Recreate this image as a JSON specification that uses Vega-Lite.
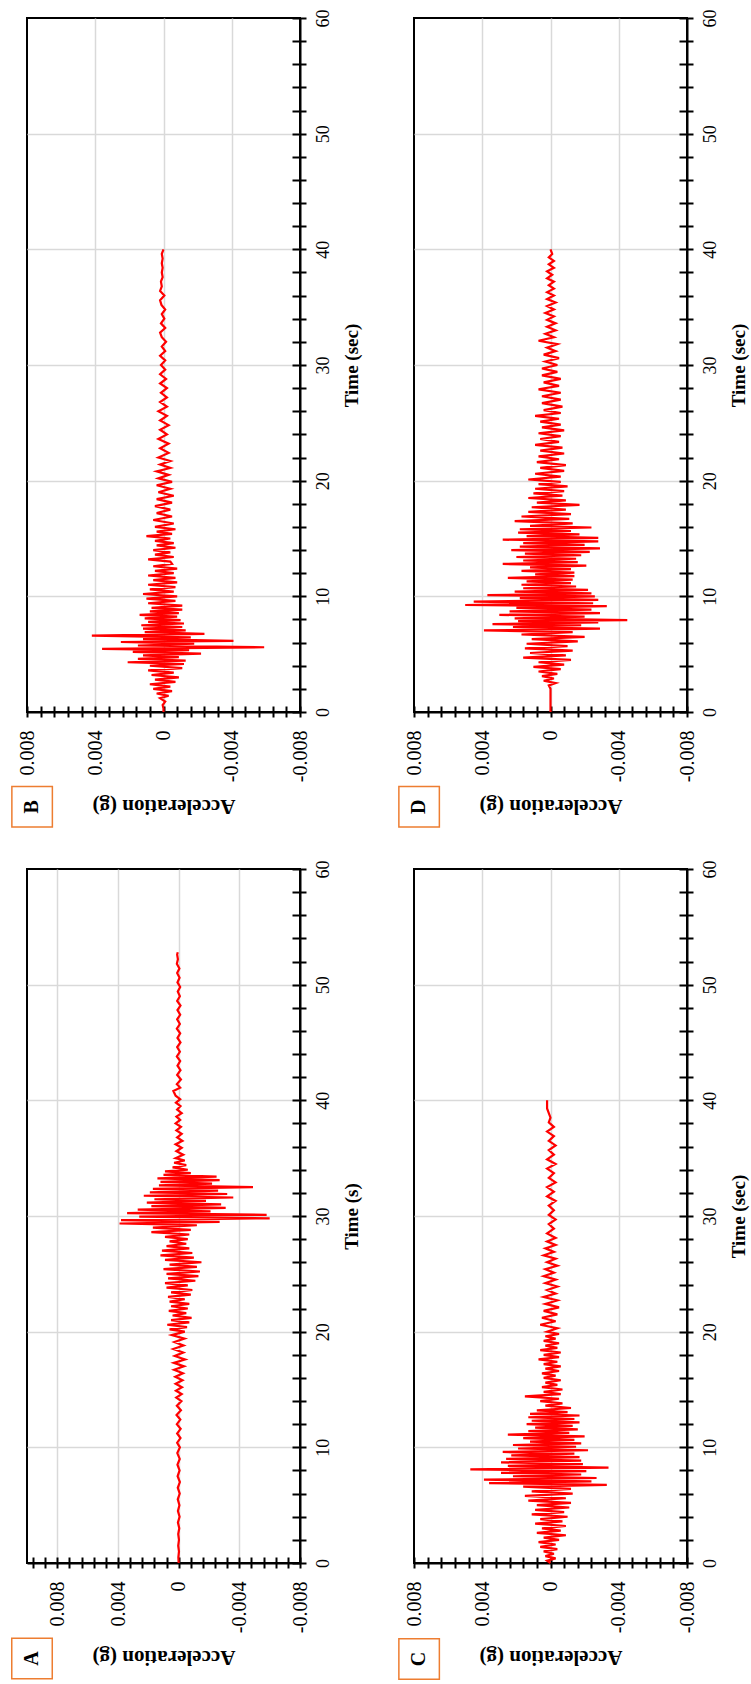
{
"$schema": "https://vega.github.io/schema/vega-lite/v6.json",
"padding": {"left": 7, "top": 7, "right": 5, "bottom": 5},
"config": {
  "view": {"stroke": "black", "strokeWidth": 2},
  "axis": {"labelFont": "Liberation Serif", "titleFont": "Liberation Serif", "labelColor": "black", "titleColor": "black", "titleFontWeight": "bold", "domainColor": "black", "domainWidth": 2, "tickColor": "black", "tickWidth": 2, "gridColor": "#d9d9d9", "gridWidth": 1.5, "labelFlush": false, "labelOverlap": false},
  "line": {"color": "#ff0000", "strokeWidth": 2.2, "strokeJoin": "miter"},
  "text": {"font": "Liberation Serif"}
},
"datasets": {
"B": [
{"t":0,"a":0},{"t":0.3,"a":0},{"t":0.6,"a":0.00005},{"t":0.9,"a":-0.0001},{"t":1.2,"a":0.0002},{"t":1.4,"a":-0.0003},{"t":1.6,"a":0.0004},{"t":1.8,"a":-0.0005},{"t":2.0,"a":0.0006},{"t":2.2,"a":-0.0004},{"t":2.4,"a":0.0008},{"t":2.6,"a":-0.0007},{"t":2.8,"a":0.0005},{"t":3.0,"a":-0.0009},{"t":3.2,"a":0.0007},{"t":3.4,"a":-0.0006},{"t":3.6,"a":0.0009},{"t":3.8,"a":-0.0011},{"t":4.0,"a":0.0008},{"t":4.15,"a":-0.0012},{"t":4.3,"a":0.0021},{"t":4.45,"a":-0.0013},{"t":4.6,"a":0.0015},{"t":4.75,"a":-0.0009},{"t":4.9,"a":0.0012},{"t":5.05,"a":-0.0022},{"t":5.2,"a":0.0018},{"t":5.35,"a":-0.0015},{"t":5.45,"a":0.0036},{"t":5.6,"a":-0.0059},{"t":5.75,"a":0.0015},{"t":5.9,"a":-0.0018},{"t":6.05,"a":0.0025},{"t":6.15,"a":-0.0041},{"t":6.3,"a":0.0012},{"t":6.45,"a":-0.0016},{"t":6.6,"a":0.0042},{"t":6.75,"a":-0.0024},{"t":6.9,"a":0.0011},{"t":7.05,"a":-0.0013},{"t":7.2,"a":0.0012},{"t":7.35,"a":-0.0011},{"t":7.5,"a":0.0013},{"t":7.65,"a":-0.0012},{"t":7.8,"a":0.0009},{"t":7.95,"a":-0.001},{"t":8.1,"a":0.0011},{"t":8.25,"a":-0.0008},{"t":8.4,"a":0.0014},{"t":8.55,"a":-0.0009},{"t":8.7,"a":0.0008},{"t":8.85,"a":-0.0011},{"t":9.0,"a":0.0007},{"t":9.2,"a":-0.0011},{"t":9.4,"a":0.0009},{"t":9.6,"a":-0.0007},{"t":9.8,"a":0.001},{"t":10.0,"a":-0.0008},{"t":10.2,"a":0.0012},{"t":10.4,"a":-0.0006},{"t":10.6,"a":0.0008},{"t":10.8,"a":-0.0007},{"t":11.0,"a":0.0009},{"t":11.2,"a":-0.0008},{"t":11.4,"a":0.0006},{"t":11.6,"a":-0.0007},{"t":11.8,"a":0.0009},{"t":12.0,"a":-0.0006},{"t":12.2,"a":0.0005},{"t":12.4,"a":-0.0008},{"t":12.6,"a":0.0006},{"t":12.8,"a":-0.0005},{"t":13.0,"a":-0.0004},{"t":13.2,"a":0.0009},{"t":13.4,"a":-0.0006},{"t":13.6,"a":0.0005},{"t":13.8,"a":-0.0004},{"t":14.0,"a":0.0006},{"t":14.2,"a":-0.0007},{"t":14.4,"a":0.0004},{"t":14.6,"a":-0.0006},{"t":14.8,"a":0.0005},{"t":15.0,"a":-0.0004},{"t":15.2,"a":0.001},{"t":15.4,"a":-0.0005},{"t":15.6,"a":0.0004},{"t":15.8,"a":-0.0007},{"t":16.0,"a":0.0005},{"t":16.3,"a":-0.0006},{"t":16.6,"a":0.0006},{"t":16.9,"a":-0.0005},{"t":17.2,"a":0.0004},{"t":17.5,"a":-0.0004},{"t":17.8,"a":0.0005},{"t":18.1,"a":-0.0005},{"t":18.4,"a":0.0004},{"t":18.7,"a":-0.0006},{"t":19.0,"a":0.0003},{"t":19.3,"a":-0.0004},{"t":19.6,"a":0.0004},{"t":19.9,"a":-0.0005},{"t":20.2,"a":0.0003},{"t":20.5,"a":-0.0003},{"t":20.8,"a":0.0004},{"t":21.1,"a":-0.0004},{"t":21.4,"a":0.0002},{"t":21.7,"a":-0.0004},{"t":22.0,"a":0.0003},{"t":22.4,"a":-0.0003},{"t":22.8,"a":0.0002},{"t":23.2,"a":-0.0003},{"t":23.6,"a":0.0003},{"t":24.0,"a":-0.0002},{"t":24.4,"a":0.0002},{"t":24.8,"a":-0.0003},{"t":25.2,"a":0.0002},{"t":25.6,"a":-0.0002},{"t":26.0,"a":0.0003},{"t":26.4,"a":-0.0002},{"t":26.8,"a":0.0002},{"t":27.2,"a":-0.0002},{"t":27.6,"a":0.00015},{"t":28.0,"a":-0.0002},{"t":28.4,"a":0.0002},{"t":28.8,"a":-0.00015},{"t":29.2,"a":0.0002},{"t":29.6,"a":-0.0001},{"t":30.0,"a":0.00015},{"t":30.4,"a":-0.0001},{"t":30.8,"a":0.0002},{"t":31.2,"a":-0.0001},{"t":31.6,"a":0.0001},{"t":32.0,"a":-0.00015},{"t":32.4,"a":0.0001},{"t":32.8,"a":0.0002},{"t":33.2,"a":-0.0001},{"t":33.6,"a":0.00015},{"t":34.0,"a":-0.00005},{"t":34.4,"a":0.0001},{"t":34.8,"a":-0.0001},{"t":35.2,"a":0.00012},{"t":35.6,"a":0.0002},{"t":36.0,"a":-0.00005},{"t":36.4,"a":0.0002},{"t":36.8,"a":0.0001},{"t":37.2,"a":0.00015},{"t":37.6,"a":0.00005},{"t":38.0,"a":0.0001},{"t":38.4,"a":0.00005},{"t":38.8,"a":0.0001},{"t":39.2,"a":0.00005},{"t":39.6,"a":0.0001},{"t":40.0,"a":0}
],
"D": [
{"t":0,"a":0},{"t":1.0,"a":0},{"t":2.0,"a":0},{"t":2.3,"a":0.0001},{"t":2.5,"a":-0.0003},{"t":2.7,"a":0.0004},{"t":2.9,"a":-0.0002},{"t":3.1,"a":0.0005},{"t":3.3,"a":-0.0004},{"t":3.5,"a":0.0007},{"t":3.7,"a":-0.0006},{"t":3.9,"a":0.001},{"t":4.1,"a":-0.0008},{"t":4.3,"a":0.0007},{"t":4.5,"a":-0.0012},{"t":4.7,"a":0.0016},{"t":4.9,"a":-0.0009},{"t":5.1,"a":0.0012},{"t":5.3,"a":-0.0013},{"t":5.5,"a":0.0015},{"t":5.7,"a":-0.001},{"t":5.9,"a":0.0014},{"t":6.1,"a":-0.0016},{"t":6.3,"a":0.0011},{"t":6.5,"a":-0.002},{"t":6.7,"a":0.0017},{"t":6.9,"a":-0.0013},{"t":7.05,"a":0.0039},{"t":7.2,"a":-0.0029},{"t":7.35,"a":0.0022},{"t":7.5,"a":-0.0018},{"t":7.6,"a":0.0034},{"t":7.75,"a":-0.0028},{"t":7.85,"a":0.0019},{"t":7.95,"a":-0.0045},{"t":8.1,"a":0.0021},{"t":8.25,"a":-0.002},{"t":8.4,"a":0.003},{"t":8.55,"a":-0.0029},{"t":8.7,"a":0.0024},{"t":8.85,"a":-0.0024},{"t":9.0,"a":0.002},{"t":9.15,"a":-0.0033},{"t":9.25,"a":0.005},{"t":9.4,"a":-0.0025},{"t":9.55,"a":0.0045},{"t":9.7,"a":-0.0028},{"t":9.85,"a":0.0018},{"t":10.0,"a":-0.0026},{"t":10.1,"a":0.0037},{"t":10.25,"a":-0.0024},{"t":10.4,"a":0.0021},{"t":10.55,"a":-0.0022},{"t":10.7,"a":0.0016},{"t":10.85,"a":-0.0015},{"t":11.0,"a":0.0017},{"t":11.15,"a":-0.0012},{"t":11.3,"a":0.0014},{"t":11.45,"a":-0.0013},{"t":11.6,"a":0.0025},{"t":11.75,"a":-0.0014},{"t":11.9,"a":0.0009},{"t":12.05,"a":-0.0014},{"t":12.2,"a":0.0017},{"t":12.35,"a":-0.0012},{"t":12.5,"a":0.0012},{"t":12.65,"a":-0.0021},{"t":12.8,"a":0.0028},{"t":12.95,"a":-0.0016},{"t":13.1,"a":0.0016},{"t":13.25,"a":-0.0015},{"t":13.4,"a":0.002},{"t":13.55,"a":-0.0018},{"t":13.7,"a":0.0015},{"t":13.85,"a":-0.0023},{"t":14.0,"a":0.0023},{"t":14.15,"a":-0.0029},{"t":14.3,"a":0.0018},{"t":14.45,"a":-0.002},{"t":14.6,"a":0.0016},{"t":14.75,"a":-0.0028},{"t":14.9,"a":0.0028},{"t":15.05,"a":-0.0028},{"t":15.2,"a":0.0014},{"t":15.35,"a":-0.0017},{"t":15.5,"a":0.0019},{"t":15.65,"a":-0.0012},{"t":15.8,"a":0.0018},{"t":15.95,"a":-0.0024},{"t":16.1,"a":0.0012},{"t":16.3,"a":-0.0013},{"t":16.5,"a":0.0021},{"t":16.7,"a":-0.0011},{"t":16.9,"a":0.0017},{"t":17.1,"a":-0.0012},{"t":17.3,"a":0.0013},{"t":17.5,"a":-0.0009},{"t":17.7,"a":0.0011},{"t":17.9,"a":-0.0017},{"t":18.1,"a":0.0008},{"t":18.3,"a":-0.0009},{"t":18.5,"a":0.0013},{"t":18.7,"a":-0.0007},{"t":18.9,"a":0.001},{"t":19.1,"a":-0.0008},{"t":19.3,"a":0.0009},{"t":19.5,"a":-0.001},{"t":19.7,"a":0.0007},{"t":19.9,"a":-0.0006},{"t":20.1,"a":0.0013},{"t":20.35,"a":-0.0006},{"t":20.6,"a":0.0009},{"t":20.85,"a":-0.0008},{"t":21.1,"a":0.0006},{"t":21.35,"a":-0.0009},{"t":21.6,"a":0.0008},{"t":21.85,"a":-0.0005},{"t":22.1,"a":0.0007},{"t":22.35,"a":-0.0008},{"t":22.6,"a":0.0006},{"t":22.85,"a":-0.0007},{"t":23.1,"a":0.0009},{"t":23.35,"a":-0.0005},{"t":23.6,"a":0.0006},{"t":23.85,"a":-0.0006},{"t":24.1,"a":0.0007},{"t":24.35,"a":-0.0008},{"t":24.6,"a":0.0005},{"t":24.85,"a":-0.0006},{"t":25.1,"a":0.0006},{"t":25.35,"a":-0.0005},{"t":25.6,"a":0.0009},{"t":25.85,"a":-0.0006},{"t":26.1,"a":0.0004},{"t":26.4,"a":-0.0007},{"t":26.7,"a":0.0005},{"t":27.0,"a":-0.0006},{"t":27.3,"a":0.0005},{"t":27.6,"a":-0.0006},{"t":27.9,"a":0.0007},{"t":28.2,"a":-0.0005},{"t":28.5,"a":0.0004},{"t":28.8,"a":-0.0006},{"t":29.1,"a":0.0005},{"t":29.4,"a":-0.0004},{"t":29.7,"a":0.0005},{"t":30.0,"a":-0.0004},{"t":30.3,"a":0.0003},{"t":30.6,"a":-0.0005},{"t":30.9,"a":0.0004},{"t":31.2,"a":-0.0003},{"t":31.5,"a":0.0002},{"t":31.8,"a":-0.0004},{"t":32.1,"a":0.0007},{"t":32.4,"a":-0.0002},{"t":32.7,"a":0.0003},{"t":33.0,"a":-0.0003},{"t":33.3,"a":0.0002},{"t":33.6,"a":-0.0003},{"t":33.9,"a":0.0002},{"t":34.2,"a":-0.0002},{"t":34.5,"a":0.0003},{"t":34.8,"a":-0.0002},{"t":35.1,"a":0.0002},{"t":35.4,"a":-0.0003},{"t":35.7,"a":0.0002},{"t":36.0,"a":-0.0002},{"t":36.3,"a":0.0002},{"t":36.6,"a":-0.0002},{"t":36.9,"a":0.0001},{"t":37.2,"a":-0.0002},{"t":37.5,"a":0.0002},{"t":37.8,"a":-0.0001},{"t":38.1,"a":0.0002},{"t":38.4,"a":-0.0002},{"t":38.7,"a":0.0001},{"t":39.0,"a":-0.0002},{"t":39.3,"a":0.0001},{"t":39.6,"a":-0.0001},{"t":40.0,"a":0}
],
"A": [
{"t":0,"a":0},{"t":0.5,"a":0.00002},{"t":1.0,"a":-0.00002},{"t":1.5,"a":0.00003},{"t":2.0,"a":-0.00002},{"t":2.5,"a":0.00003},{"t":3.0,"a":-0.00004},{"t":3.5,"a":0.00005},{"t":4.0,"a":-0.00006},{"t":4.5,"a":0.00005},{"t":5.0,"a":-0.00005},{"t":5.5,"a":0.00006},{"t":6.0,"a":-0.00007},{"t":6.5,"a":0.00006},{"t":7.0,"a":-0.00008},{"t":7.5,"a":0.00007},{"t":8.0,"a":-0.00006},{"t":8.5,"a":0.00008},{"t":9.0,"a":-0.00007},{"t":9.5,"a":0.00009},{"t":10.0,"a":-0.00008},{"t":10.4,"a":0.0001},{"t":10.8,"a":-0.00012},{"t":11.2,"a":0.0001},{"t":11.6,"a":-0.00013},{"t":12.0,"a":0.00012},{"t":12.4,"a":-0.00011},{"t":12.8,"a":0.00014},{"t":13.2,"a":-0.00015},{"t":13.6,"a":0.00012},{"t":14.0,"a":-0.00018},{"t":14.3,"a":0.00016},{"t":14.6,"a":-0.0002},{"t":14.9,"a":0.00018},{"t":15.2,"a":-0.00022},{"t":15.5,"a":0.0002},{"t":15.8,"a":-0.00025},{"t":16.1,"a":0.00022},{"t":16.4,"a":-0.00028},{"t":16.7,"a":0.0003},{"t":17.0,"a":-0.00035},{"t":17.3,"a":0.00032},{"t":17.6,"a":-0.00042},{"t":17.9,"a":0.00026},{"t":18.2,"a":-0.0003},{"t":18.5,"a":0.00035},{"t":18.8,"a":-0.00032},{"t":19.1,"a":0.00028},{"t":19.4,"a":-0.00038},{"t":19.7,"a":0.00045},{"t":20.0,"a":-0.0004},{"t":20.2,"a":0.0006},{"t":20.4,"a":-0.00055},{"t":20.6,"a":0.00075},{"t":20.8,"a":-0.0007},{"t":21.0,"a":0.0005},{"t":21.2,"a":-0.00085},{"t":21.4,"a":0.0004},{"t":21.6,"a":-0.0005},{"t":21.8,"a":0.00065},{"t":22.0,"a":-0.0006},{"t":22.2,"a":0.0005},{"t":22.4,"a":-0.0007},{"t":22.6,"a":0.0006},{"t":22.8,"a":-0.0004},{"t":23.0,"a":0.0007},{"t":23.2,"a":-0.0008},{"t":23.4,"a":0.0005},{"t":23.6,"a":-0.0009},{"t":23.8,"a":0.0008},{"t":24.0,"a":-0.0006},{"t":24.2,"a":0.0009},{"t":24.4,"a":-0.0011},{"t":24.6,"a":0.0007},{"t":24.8,"a":-0.0013},{"t":25.0,"a":0.0008},{"t":25.2,"a":-0.0014},{"t":25.4,"a":0.001},{"t":25.6,"a":-0.0012},{"t":25.8,"a":0.0006},{"t":26.0,"a":-0.0015},{"t":26.2,"a":0.0009},{"t":26.4,"a":-0.001},{"t":26.6,"a":0.0012},{"t":26.8,"a":-0.0009},{"t":27.0,"a":0.0011},{"t":27.2,"a":-0.0007},{"t":27.4,"a":0.0008},{"t":27.6,"a":-0.0005},{"t":27.8,"a":0.0006},{"t":28.0,"a":-0.0006},{"t":28.2,"a":0.0009},{"t":28.4,"a":-0.0007},{"t":28.6,"a":0.0018},{"t":28.8,"a":-0.0008},{"t":29.0,"a":0.0017},{"t":29.2,"a":-0.0012},{"t":29.35,"a":0.0039},{"t":29.5,"a":-0.0027},{"t":29.65,"a":0.0038},{"t":29.8,"a":-0.006},{"t":29.95,"a":0.0026},{"t":30.1,"a":-0.0058},{"t":30.25,"a":0.0034},{"t":30.4,"a":-0.0021},{"t":30.55,"a":0.0027},{"t":30.7,"a":-0.0031},{"t":30.85,"a":0.0018},{"t":31.0,"a":-0.0028},{"t":31.15,"a":0.0021},{"t":31.3,"a":-0.0018},{"t":31.45,"a":0.0016},{"t":31.6,"a":-0.0036},{"t":31.75,"a":0.0023},{"t":31.9,"a":-0.0032},{"t":32.05,"a":0.0019},{"t":32.2,"a":-0.0026},{"t":32.35,"a":0.0017},{"t":32.5,"a":-0.0049},{"t":32.65,"a":0.0013},{"t":32.8,"a":-0.0022},{"t":32.95,"a":0.0012},{"t":33.1,"a":-0.0027},{"t":33.25,"a":0.0014},{"t":33.4,"a":-0.0025},{"t":33.55,"a":0.001},{"t":33.7,"a":-0.0008},{"t":33.85,"a":0.0009},{"t":34.0,"a":-0.0006},{"t":34.2,"a":0.0004},{"t":34.4,"a":-0.0005},{"t":34.6,"a":0.0003},{"t":34.8,"a":-0.0004},{"t":35.0,"a":0.0002},{"t":35.3,"a":-0.0003},{"t":35.6,"a":0.00015},{"t":35.9,"a":-0.0002},{"t":36.2,"a":0.0002},{"t":36.5,"a":-0.00025},{"t":36.8,"a":0.0001},{"t":37.1,"a":-0.0002},{"t":37.4,"a":0.00015},{"t":37.7,"a":-0.00015},{"t":38.0,"a":0.0002},{"t":38.3,"a":-0.0001},{"t":38.6,"a":0.00015},{"t":38.9,"a":-0.0002},{"t":39.2,"a":0.0001},{"t":39.5,"a":-0.00012},{"t":39.8,"a":0.00018},{"t":40.1,"a":-0.0001},{"t":40.4,"a":0.0002},{"t":40.8,"a":0.00035},{"t":41.1,"a":-0.0001},{"t":41.4,"a":0.00012},{"t":41.8,"a":-0.00015},{"t":42.2,"a":0.0001},{"t":42.6,"a":-0.00012},{"t":43.0,"a":0.00008},{"t":43.4,"a":-0.0001},{"t":43.8,"a":0.00012},{"t":44.2,"a":-0.00008},{"t":44.6,"a":0.0001},{"t":45.0,"a":-0.00012},{"t":45.4,"a":0.00008},{"t":45.8,"a":-0.0001},{"t":46.2,"a":0.00012},{"t":46.6,"a":-0.00008},{"t":47.0,"a":0.0001},{"t":47.4,"a":-0.0001},{"t":47.8,"a":0.00008},{"t":48.2,"a":-0.00012},{"t":48.6,"a":0.0001},{"t":49.0,"a":-0.00008},{"t":49.4,"a":0.00006},{"t":49.8,"a":-0.0001},{"t":50.2,"a":0.00008},{"t":50.6,"a":-0.00006},{"t":51.0,"a":0.0001},{"t":51.4,"a":-0.00005},{"t":51.8,"a":0.00012},{"t":52.2,"a":0.00005},{"t":52.6,"a":0.0001},{"t":52.8,"a":0.00006}
],
"C": [
{"t":0,"a":0},{"t":0.2,"a":0.0002},{"t":0.4,"a":-0.0003},{"t":0.6,"a":0.0003},{"t":0.8,"a":-0.0002},{"t":1.0,"a":0.0004},{"t":1.2,"a":-0.0004},{"t":1.4,"a":0.0006},{"t":1.6,"a":-0.0003},{"t":1.8,"a":0.0007},{"t":2.0,"a":-0.0005},{"t":2.2,"a":0.0004},{"t":2.4,"a":-0.0009},{"t":2.6,"a":0.0008},{"t":2.8,"a":-0.0006},{"t":3.0,"a":0.0005},{"t":3.2,"a":-0.0009},{"t":3.4,"a":0.0009},{"t":3.6,"a":-0.0007},{"t":3.8,"a":0.0006},{"t":4.0,"a":-0.001},{"t":4.2,"a":0.0011},{"t":4.4,"a":-0.0008},{"t":4.6,"a":0.0009},{"t":4.8,"a":-0.0011},{"t":5.0,"a":0.0008},{"t":5.2,"a":-0.0012},{"t":5.4,"a":0.0013},{"t":5.6,"a":-0.0009},{"t":5.8,"a":0.0015},{"t":6.0,"a":-0.0013},{"t":6.2,"a":0.0011},{"t":6.4,"a":-0.0012},{"t":6.6,"a":0.0016},{"t":6.75,"a":-0.0033},{"t":6.9,"a":0.0036},{"t":7.05,"a":-0.0024},{"t":7.2,"a":0.0039},{"t":7.35,"a":-0.0027},{"t":7.5,"a":0.0022},{"t":7.65,"a":-0.0018},{"t":7.8,"a":0.0029},{"t":7.95,"a":-0.0021},{"t":8.1,"a":0.0047},{"t":8.25,"a":-0.0034},{"t":8.4,"a":0.0025},{"t":8.55,"a":-0.0019},{"t":8.7,"a":0.0029},{"t":8.85,"a":-0.0018},{"t":9.0,"a":0.0026},{"t":9.15,"a":-0.0017},{"t":9.3,"a":0.0023},{"t":9.45,"a":-0.0014},{"t":9.6,"a":0.0028},{"t":9.75,"a":-0.0022},{"t":9.9,"a":0.0019},{"t":10.05,"a":-0.0015},{"t":10.2,"a":0.0022},{"t":10.35,"a":-0.0018},{"t":10.5,"a":0.0012},{"t":10.65,"a":-0.0014},{"t":10.8,"a":0.0016},{"t":10.95,"a":-0.002},{"t":11.1,"a":0.0025},{"t":11.25,"a":-0.0011},{"t":11.4,"a":0.0013},{"t":11.55,"a":-0.0016},{"t":11.7,"a":0.0009},{"t":11.85,"a":-0.0013},{"t":12.0,"a":0.0014},{"t":12.15,"a":-0.0017},{"t":12.3,"a":0.0011},{"t":12.45,"a":-0.0014},{"t":12.6,"a":0.0013},{"t":12.75,"a":-0.0017},{"t":12.9,"a":0.0012},{"t":13.05,"a":-0.001},{"t":13.2,"a":0.0008},{"t":13.4,"a":-0.0012},{"t":13.6,"a":0.0003},{"t":13.8,"a":-0.0007},{"t":14.0,"a":0.0006},{"t":14.2,"a":-0.0005},{"t":14.4,"a":0.0015},{"t":14.6,"a":-0.0006},{"t":14.8,"a":0.0004},{"t":15.0,"a":-0.0007},{"t":15.2,"a":0.0005},{"t":15.4,"a":-0.0004},{"t":15.6,"a":0.0003},{"t":15.8,"a":-0.0006},{"t":16.0,"a":0.0004},{"t":16.2,"a":-0.0003},{"t":16.4,"a":0.0005},{"t":16.6,"a":-0.0005},{"t":16.8,"a":0.0003},{"t":17.0,"a":-0.0006},{"t":17.2,"a":0.0004},{"t":17.4,"a":-0.0004},{"t":17.6,"a":0.0007},{"t":17.8,"a":-0.0005},{"t":18.0,"a":0.0004},{"t":18.2,"a":-0.0006},{"t":18.4,"a":0.0006},{"t":18.6,"a":-0.0004},{"t":18.8,"a":0.0003},{"t":19.0,"a":-0.0005},{"t":19.2,"a":0.0004},{"t":19.4,"a":-0.0003},{"t":19.6,"a":0.0003},{"t":19.8,"a":-0.0005},{"t":20.0,"a":0.0002},{"t":20.3,"a":-0.0004},{"t":20.6,"a":0.0006},{"t":20.9,"a":-0.0003},{"t":21.2,"a":0.0005},{"t":21.5,"a":-0.0004},{"t":21.8,"a":0.0004},{"t":22.1,"a":-0.0005},{"t":22.4,"a":0.0003},{"t":22.7,"a":-0.0004},{"t":23.0,"a":0.0004},{"t":23.3,"a":-0.0003},{"t":23.6,"a":0.0002},{"t":23.9,"a":-0.0004},{"t":24.2,"a":0.0003},{"t":24.5,"a":-0.0003},{"t":24.8,"a":0.0004},{"t":25.1,"a":-0.0002},{"t":25.4,"a":0.0003},{"t":25.7,"a":-0.0004},{"t":26.0,"a":0.0002},{"t":26.3,"a":-0.0003},{"t":26.6,"a":0.0004},{"t":26.9,"a":-0.0002},{"t":27.2,"a":0.0003},{"t":27.5,"a":-0.0003},{"t":27.8,"a":0.0002},{"t":28.1,"a":-0.0003},{"t":28.5,"a":0.0002},{"t":28.9,"a":-0.0002},{"t":29.3,"a":0.0001},{"t":29.7,"a":-0.0003},{"t":30.1,"a":0.0001},{"t":30.5,"a":-0.0002},{"t":30.9,"a":0.0001},{"t":31.3,"a":-0.0003},{"t":31.7,"a":0.0002},{"t":32.1,"a":-0.0002},{"t":32.5,"a":0.0002},{"t":32.9,"a":-0.0003},{"t":33.3,"a":0.0001},{"t":33.7,"a":-0.0002},{"t":34.1,"a":0.0002},{"t":34.5,"a":-0.0003},{"t":34.9,"a":0.0002},{"t":35.3,"a":-0.0002},{"t":35.7,"a":0.0001},{"t":36.1,"a":-0.0003},{"t":36.5,"a":0.0001},{"t":36.9,"a":-0.0002},{"t":37.3,"a":0.0002},{"t":37.7,"a":-0.0002},{"t":38.1,"a":0.0001},{"t":38.5,"a":0},{"t":38.9,"a":0.0001},{"t":39.3,"a":0.0002},{"t":39.7,"a":0.0002},{"t":40.0,"a":0.0002}
]
},
"columns": 2,
"spacing": {"row": 157, "column": 114},
"bounds": "flush",
"concat": [
{
"width": 273, "height": 694,
"layer": [
{"data": {"name": "B"},
 "mark": {"type": "line"},
 "encoding": {
  "x": {"field": "a", "type": "quantitative", "scale": {"domain": [-0.008, 0.008], "reverse": true, "nice": false, "zero": false},
        "axis": {"orient": "bottom", "values": [-0.008, -0.004, 0, 0.004, 0.008], "labelExpr": "'' + datum.value", "labelAngle": -90, "labelAlign": "right", "labelBaseline": "middle", "labelPadding": 18, "labelFontSize": 20, "ticks": false, "tickSize": 0, "grid": true, "gridColor": {"condition": {"test": "abs(datum.value) > 0.0079", "value": "transparent"}, "value": "#d9d9d9"}, "title": "Acceleration (g)", "titleFontSize": 21, "titleAngle": 180, "titleBaseline": "bottom", "titlePadding": 14}},
  "y": {"field": "t", "type": "quantitative", "scale": {"domain": [0, 60], "nice": false, "zero": false},
        "axis": {"orient": "right", "values": [0, 10, 20, 30, 40, 50, 60], "labelAngle": -90, "labelAlign": "center", "labelBaseline": "top", "labelPadding": 14, "labelFontSize": 18, "ticks": false, "tickSize": 0, "grid": true, "gridColor": {"condition": {"test": "datum.value == 0 || datum.value == 60", "value": "transparent"}, "value": "#d9d9d9"}, "title": "Time (sec)", "titleFontSize": 19, "titleAngle": -90, "titleBaseline": "top", "titlePadding": 10}},
  "order": {"field": "t", "type": "quantitative"}
 }},
{"data": {"values": [{"panel": "B"}]},
 "mark": {"type": "point", "shape": "square", "size": 1640, "filled": true, "fill": "white", "stroke": "#ED7D31", "strokeWidth": 1.5, "opacity": 1},
 "encoding": {
  "x": {"datum": 0.0077, "type": "quantitative", "scale": {"domain": [-0.008, 0.008], "reverse": true, "nice": false, "zero": false},
        "axis": {"orient": "bottom", "values": [-0.008, -0.0072, -0.0064, -0.0056, -0.0048, -0.004, -0.0032, -0.0024, -0.0016, -0.0008, 0, 0.0008, 0.0016, 0.0024, 0.0032, 0.004, 0.0048, 0.0056, 0.0064, 0.0072, 0.008], "labels": false, "grid": false, "domain": false, "ticks": true, "tickSize": 11, "offset": -6, "title": null}},
  "y": {"datum": -8.2, "type": "quantitative", "scale": {"domain": [0, 60], "nice": false, "zero": false},
        "axis": {"orient": "right", "values": [0, 2, 4, 6, 8, 10, 12, 14, 16, 18, 20, 22, 24, 26, 28, 30, 32, 34, 36, 38, 40, 42, 44, 46, 48, 50, 52, 54, 56, 58, 60], "labels": false, "grid": false, "domain": false, "ticks": true, "tickSize": 14, "offset": -8, "title": null}}
 }},
{"data": {"values": [{"panel": "B"}]},
 "mark": {"type": "text", "angle": 270, "fontSize": 20, "fontWeight": "bold", "color": "black"},
 "encoding": {
  "x": {"datum": 0.0077, "type": "quantitative", "axis": null},
  "y": {"datum": -8.2, "type": "quantitative", "axis": null},
  "text": {"field": "panel"}
 }}
],
"resolve": {"axis": {"x": "independent", "y": "independent"}}
},
{
"width": 273, "height": 694,
"layer": [
{"data": {"name": "D"},
 "mark": {"type": "line"},
 "encoding": {
  "x": {"field": "a", "type": "quantitative", "scale": {"domain": [-0.008, 0.008], "reverse": true, "nice": false, "zero": false},
        "axis": {"orient": "bottom", "values": [-0.008, -0.004, 0, 0.004, 0.008], "labelExpr": "'' + datum.value", "labelAngle": -90, "labelAlign": "right", "labelBaseline": "middle", "labelPadding": 18, "labelFontSize": 20, "ticks": false, "tickSize": 0, "grid": true, "gridColor": {"condition": {"test": "abs(datum.value) > 0.0079", "value": "transparent"}, "value": "#d9d9d9"}, "title": "Acceleration (g)", "titleFontSize": 21, "titleAngle": 180, "titleBaseline": "bottom", "titlePadding": 14}},
  "y": {"field": "t", "type": "quantitative", "scale": {"domain": [0, 60], "nice": false, "zero": false},
        "axis": {"orient": "right", "values": [0, 10, 20, 30, 40, 50, 60], "labelAngle": -90, "labelAlign": "center", "labelBaseline": "top", "labelPadding": 14, "labelFontSize": 18, "ticks": false, "tickSize": 0, "grid": true, "gridColor": {"condition": {"test": "datum.value == 0 || datum.value == 60", "value": "transparent"}, "value": "#d9d9d9"}, "title": "Time (sec)", "titleFontSize": 19, "titleAngle": -90, "titleBaseline": "top", "titlePadding": 10}},
  "order": {"field": "t", "type": "quantitative"}
 }},
{"data": {"values": [{"panel": "D"}]},
 "mark": {"type": "point", "shape": "square", "size": 1640, "filled": true, "fill": "white", "stroke": "#ED7D31", "strokeWidth": 1.5, "opacity": 1},
 "encoding": {
  "x": {"datum": 0.0077, "type": "quantitative", "scale": {"domain": [-0.008, 0.008], "reverse": true, "nice": false, "zero": false},
        "axis": {"orient": "bottom", "values": [-0.008, -0.0072, -0.0064, -0.0056, -0.0048, -0.004, -0.0032, -0.0024, -0.0016, -0.0008, 0, 0.0008, 0.0016, 0.0024, 0.0032, 0.004, 0.0048, 0.0056, 0.0064, 0.0072, 0.008], "labels": false, "grid": false, "domain": false, "ticks": true, "tickSize": 11, "offset": -6, "title": null}},
  "y": {"datum": -8.2, "type": "quantitative", "scale": {"domain": [0, 60], "nice": false, "zero": false},
        "axis": {"orient": "right", "values": [0, 2, 4, 6, 8, 10, 12, 14, 16, 18, 20, 22, 24, 26, 28, 30, 32, 34, 36, 38, 40, 42, 44, 46, 48, 50, 52, 54, 56, 58, 60], "labels": false, "grid": false, "domain": false, "ticks": true, "tickSize": 14, "offset": -8, "title": null}}
 }},
{"data": {"values": [{"panel": "D"}]},
 "mark": {"type": "text", "angle": 270, "fontSize": 20, "fontWeight": "bold", "color": "black"},
 "encoding": {
  "x": {"datum": 0.0077, "type": "quantitative", "axis": null},
  "y": {"datum": -8.2, "type": "quantitative", "axis": null},
  "text": {"field": "panel"}
 }}
],
"resolve": {"axis": {"x": "independent", "y": "independent"}}
},
{
"width": 273, "height": 694,
"layer": [
{"data": {"name": "A"},
 "mark": {"type": "line"},
 "encoding": {
  "x": {"field": "a", "type": "quantitative", "scale": {"domain": [-0.008, 0.01], "reverse": true, "nice": false, "zero": false},
        "axis": {"orient": "bottom", "values": [-0.008, -0.004, 0, 0.004, 0.008], "labelExpr": "'' + datum.value", "labelAngle": -90, "labelAlign": "right", "labelBaseline": "middle", "labelPadding": 18, "labelFontSize": 20, "ticks": false, "tickSize": 0, "grid": true, "gridColor": {"condition": {"test": "datum.value < -0.0079", "value": "transparent"}, "value": "#d9d9d9"}, "title": "Acceleration (g)", "titleFontSize": 21, "titleAngle": 180, "titleBaseline": "bottom", "titlePadding": 14}},
  "y": {"field": "t", "type": "quantitative", "scale": {"domain": [0, 60], "nice": false, "zero": false},
        "axis": {"orient": "right", "values": [0, 10, 20, 30, 40, 50, 60], "labelAngle": -90, "labelAlign": "center", "labelBaseline": "top", "labelPadding": 14, "labelFontSize": 18, "ticks": false, "tickSize": 0, "grid": true, "gridColor": {"condition": {"test": "datum.value == 0 || datum.value == 60", "value": "transparent"}, "value": "#d9d9d9"}, "title": "Time (s)", "titleFontSize": 19, "titleAngle": -90, "titleBaseline": "top", "titlePadding": 10}},
  "order": {"field": "t", "type": "quantitative"}
 }},
{"data": {"values": [{"panel": "A"}]},
 "mark": {"type": "point", "shape": "square", "size": 1640, "filled": true, "fill": "white", "stroke": "#ED7D31", "strokeWidth": 1.5, "opacity": 1},
 "encoding": {
  "x": {"datum": 0.00967, "type": "quantitative", "scale": {"domain": [-0.008, 0.01], "reverse": true, "nice": false, "zero": false},
        "axis": {"orient": "bottom", "values": [-0.008, -0.0072, -0.0064, -0.0056, -0.0048, -0.004, -0.0032, -0.0024, -0.0016, -0.0008, 0, 0.0008, 0.0016, 0.0024, 0.0032, 0.004, 0.0048, 0.0056, 0.0064, 0.0072, 0.008, 0.0088, 0.0096], "labels": false, "grid": false, "domain": false, "ticks": true, "tickSize": 11, "offset": -6, "title": null}},
  "y": {"datum": -8.25, "type": "quantitative", "scale": {"domain": [0, 60], "nice": false, "zero": false},
        "axis": {"orient": "right", "values": [0, 2, 4, 6, 8, 10, 12, 14, 16, 18, 20, 22, 24, 26, 28, 30, 32, 34, 36, 38, 40, 42, 44, 46, 48, 50, 52, 54, 56, 58, 60], "labels": false, "grid": false, "domain": false, "ticks": true, "tickSize": 14, "offset": -8, "title": null}}
 }},
{"data": {"values": [{"panel": "A"}]},
 "mark": {"type": "text", "angle": 270, "fontSize": 20, "fontWeight": "bold", "color": "black"},
 "encoding": {
  "x": {"datum": 0.00967, "type": "quantitative", "axis": null},
  "y": {"datum": -8.25, "type": "quantitative", "axis": null},
  "text": {"field": "panel"}
 }}
],
"resolve": {"axis": {"x": "independent", "y": "independent"}}
},
{
"width": 273, "height": 694,
"layer": [
{"data": {"name": "C"},
 "mark": {"type": "line"},
 "encoding": {
  "x": {"field": "a", "type": "quantitative", "scale": {"domain": [-0.008, 0.008], "reverse": true, "nice": false, "zero": false},
        "axis": {"orient": "bottom", "values": [-0.008, -0.004, 0, 0.004, 0.008], "labelExpr": "'' + datum.value", "labelAngle": -90, "labelAlign": "right", "labelBaseline": "middle", "labelPadding": 18, "labelFontSize": 20, "ticks": false, "tickSize": 0, "grid": true, "gridColor": {"condition": {"test": "abs(datum.value) > 0.0079", "value": "transparent"}, "value": "#d9d9d9"}, "title": "Acceleration (g)", "titleFontSize": 21, "titleAngle": 180, "titleBaseline": "bottom", "titlePadding": 14}},
  "y": {"field": "t", "type": "quantitative", "scale": {"domain": [0, 60], "nice": false, "zero": false},
        "axis": {"orient": "right", "values": [0, 10, 20, 30, 40, 50, 60], "labelAngle": -90, "labelAlign": "center", "labelBaseline": "top", "labelPadding": 14, "labelFontSize": 18, "ticks": false, "tickSize": 0, "grid": true, "gridColor": {"condition": {"test": "datum.value == 0 || datum.value == 60", "value": "transparent"}, "value": "#d9d9d9"}, "title": "Time (sec)", "titleFontSize": 19, "titleAngle": -90, "titleBaseline": "top", "titlePadding": 10}},
  "order": {"field": "t", "type": "quantitative"}
 }},
{"data": {"values": [{"panel": "C"}]},
 "mark": {"type": "point", "shape": "square", "size": 1640, "filled": true, "fill": "white", "stroke": "#ED7D31", "strokeWidth": 1.5, "opacity": 1},
 "encoding": {
  "x": {"datum": 0.0077, "type": "quantitative", "scale": {"domain": [-0.008, 0.008], "reverse": true, "nice": false, "zero": false},
        "axis": {"orient": "bottom", "values": [-0.008, -0.0072, -0.0064, -0.0056, -0.0048, -0.004, -0.0032, -0.0024, -0.0016, -0.0008, 0, 0.0008, 0.0016, 0.0024, 0.0032, 0.004, 0.0048, 0.0056, 0.0064, 0.0072, 0.008], "labels": false, "grid": false, "domain": false, "ticks": true, "tickSize": 11, "offset": -6, "title": null}},
  "y": {"datum": -8.3, "type": "quantitative", "scale": {"domain": [0, 60], "nice": false, "zero": false},
        "axis": {"orient": "right", "values": [0, 2, 4, 6, 8, 10, 12, 14, 16, 18, 20, 22, 24, 26, 28, 30, 32, 34, 36, 38, 40, 42, 44, 46, 48, 50, 52, 54, 56, 58, 60], "labels": false, "grid": false, "domain": false, "ticks": true, "tickSize": 14, "offset": -8, "title": null}}
 }},
{"data": {"values": [{"panel": "C"}]},
 "mark": {"type": "text", "angle": 270, "fontSize": 20, "fontWeight": "bold", "color": "black"},
 "encoding": {
  "x": {"datum": 0.0077, "type": "quantitative", "axis": null},
  "y": {"datum": -8.3, "type": "quantitative", "axis": null},
  "text": {"field": "panel"}
 }}
],
"resolve": {"axis": {"x": "independent", "y": "independent"}}
}
]
}
